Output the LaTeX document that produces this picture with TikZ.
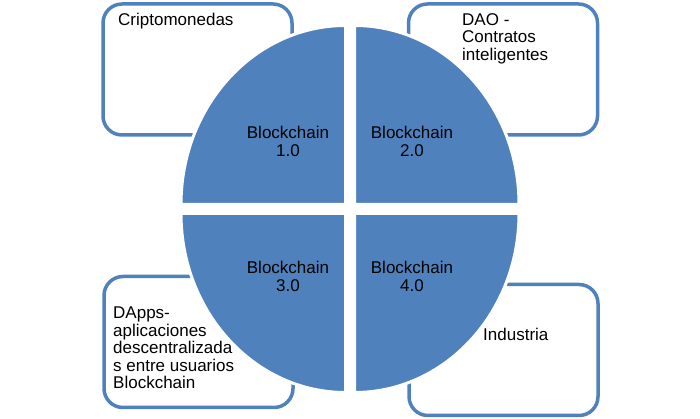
\documentclass[tikz,border=0pt]{standalone}
\usepackage{fontspec}
\setmainfont{Liberation Sans}
\definecolor{chainblue}{HTML}{4F81BD}
\begin{document}
\begin{tikzpicture}[x=1pt, y=1pt,
        box/.style={draw=chainblue, line width=3.5pt, rounded corners=19pt, minimum width=189pt, minimum height=131pt, inner sep=0pt},
        sector/.style={fill=chainblue, draw=white, line width=3pt},
        txt/.style={font=\fontsize{17}{17.5}\selectfont, inner sep=0pt, align=left, anchor=north west},
        lbl/.style={font=\fontsize{17}{17.5}\selectfont, inner sep=0pt, align=center}]
    \useasboundingbox (0,0) rectangle (700,419);

    \node[box] (A) at (197.5,349.5) {};
    \node[box] (B) at (503,349.5) {};
    \node[box] (C) at (198.5,77) {};
    \node[box] (D) at (503.5,69) {};

    \path[sector] (345.5,214.5) -- ++(-164.5,0) arc[start angle=180, end angle=90, x radius=164.5, y radius=179] -- cycle;
    \path[sector] (354.5,214.5) -- ++(0,179) arc[start angle=90, end angle=0, x radius=164.5, y radius=179] -- cycle;
    \path[sector] (345.5,205.5) -- ++(-164.5,0) arc[start angle=180, end angle=270, x radius=164.5, y radius=179] -- cycle;
    \path[sector] (354.5,205.5) -- ++(164.5,0) arc[start angle=0, end angle=-90, x radius=164.5, y radius=179] -- cycle;

    \node[txt] (TA) at (118,406) {Criptomonedas};
    \node[txt] (TB) at (462,406) {DAO -\\Contratos\\inteligentes};
    \node[txt] (TC) at (113,112) {DApps-\\aplicaciones\\descentralizada\\s entre usuarios\\Blockchain};
    \node[txt] (TD) at (483,91) {Industria};

    \node[lbl] (S1) at (288,277.5) {Blockchain\\1.0};
    \node[lbl] (S2) at (412,277.5) {Blockchain\\2.0};
    \node[lbl] (S3) at (288,142.5) {Blockchain\\3.0};
    \node[lbl] (S4) at (412,142.5) {Blockchain\\4.0};
\end{tikzpicture}
\end{document}
